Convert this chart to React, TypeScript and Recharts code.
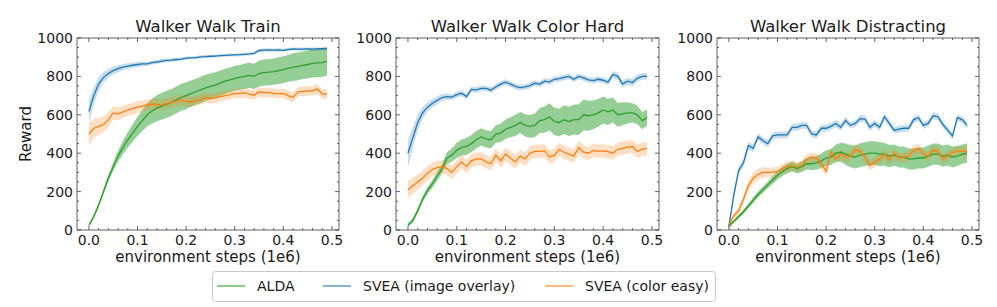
import React from 'react';
import { ComposedChart, Line, Area, XAxis, YAxis } from 'recharts';

const STEPS = [0, 0.01, 0.02, 0.03, 0.04, 0.05, 0.06, 0.07, 0.08, 0.09, 0.1, 0.11, 0.12, 0.13, 0.14, 0.15, 0.16, 0.17, 0.18, 0.19, 0.2, 0.21, 0.22, 0.23, 0.24, 0.25, 0.26, 0.27, 0.28, 0.29, 0.3, 0.31, 0.32, 0.33, 0.34, 0.35, 0.36, 0.37, 0.38, 0.39, 0.4, 0.41, 0.42, 0.43, 0.44, 0.45, 0.46, 0.47, 0.48, 0.49];

const X_TICKS = [0, 0.02, 0.04, 0.06, 0.08, 0.1, 0.12, 0.14, 0.16, 0.18, 0.2, 0.22, 0.24, 0.26, 0.28, 0.3, 0.32, 0.34, 0.36, 0.38, 0.4, 0.42, 0.44, 0.46, 0.48, 0.5];
const Y_TICKS = [0, 50, 100, 150, 200, 250, 300, 350, 400, 450, 500, 550, 600, 650, 700, 750, 800, 850, 900, 950, 1000];

const TITLES = ['Walker Walk Train', 'Walker Walk Color Hard', 'Walker Walk Distracting'];
const SERIES_NAMES = ['ALDA', 'SVEA (image overlay)', 'SVEA (color easy)'];
const X_LABEL = 'environment steps (1e6)';
const Y_LABEL = 'Reward';

// ---- Walker Walk Train ----
const TRAIN_ALDA = [25, 70, 130, 200, 270, 330, 385, 430, 470, 505, 540, 570, 600, 620, 635, 645, 655, 665, 678, 690, 700, 710, 720, 730, 740, 748, 755, 765, 775, 782, 790, 795, 800, 805, 800, 815, 820, 822, 825, 830, 835, 842, 848, 852, 858, 862, 868, 870, 872, 880];
const TRAIN_ALDA_SD = [8, 10, 12, 15, 18, 22, 28, 35, 40, 45, 50, 55, 60, 65, 68, 70, 70, 70, 70, 70, 70, 68, 68, 68, 68, 68, 66, 66, 65, 65, 65, 65, 66, 66, 66, 68, 68, 68, 68, 70, 70, 70, 72, 72, 72, 72, 74, 75, 75, 75];
const TRAIN_IMG = [617, 700, 760, 795, 815, 830, 840, 848, 853, 858, 862, 865, 865, 872, 875, 880, 883, 885, 888, 890, 895, 897, 898, 902, 903, 905, 906, 908, 910, 911, 912, 913, 915, 917, 920, 935, 937, 938, 937, 938, 936, 940, 943, 942, 942, 943, 942, 943, 944, 943];
const TRAIN_IMG_SD = [60, 45, 35, 28, 22, 20, 18, 16, 15, 14, 13, 12, 11, 10, 10, 10, 9, 9, 9, 9, 9, 8, 8, 8, 8, 8, 8, 8, 8, 8, 8, 8, 8, 8, 8, 8, 8, 8, 8, 8, 8, 8, 8, 8, 8, 8, 8, 8, 8, 8];
const TRAIN_COLOR = [500, 530, 540, 548, 575, 610, 605, 615, 625, 632, 640, 645, 652, 655, 655, 650, 660, 665, 672, 676, 670, 668, 673, 678, 690, 685, 688, 695, 700, 705, 712, 710, 715, 708, 702, 720, 715, 716, 712, 710, 712, 700, 690, 720, 722, 724, 725, 735, 708, 708];
const TRAIN_COLOR_SD = [60, 50, 45, 40, 38, 36, 34, 32, 30, 30, 30, 28, 28, 28, 28, 28, 28, 28, 28, 28, 28, 26, 26, 26, 26, 26, 26, 26, 25, 25, 25, 25, 25, 25, 25, 25, 25, 25, 25, 25, 25, 25, 25, 25, 25, 25, 25, 25, 25, 25];

// ---- Walker Walk Color Hard ----
const HARD_ALDA = [25, 50, 100, 160, 205, 240, 280, 320, 375, 390, 415, 430, 435, 450, 470, 485, 475, 470, 500, 505, 525, 535, 545, 560, 545, 540, 545, 570, 575, 590, 565, 560, 575, 565, 575, 575, 600, 595, 600, 610, 625, 615, 625, 600, 605, 610, 610, 600, 570, 585];
const HARD_ALDA_SD = [10, 12, 14, 16, 18, 20, 22, 25, 30, 35, 40, 42, 45, 45, 45, 45, 45, 45, 45, 48, 50, 52, 55, 55, 58, 60, 62, 65, 68, 70, 72, 72, 75, 75, 78, 80, 80, 78, 75, 72, 70, 68, 65, 62, 60, 55, 50, 48, 45, 42];
const HARD_IMG = [400, 480, 560, 610, 640, 660, 675, 690, 695, 692, 705, 712, 695, 732, 730, 738, 738, 728, 745, 760, 770, 760, 748, 742, 745, 752, 765, 760, 775, 772, 785, 788, 795, 800, 785, 800, 792, 782, 778, 785, 780, 770, 810, 800, 760, 775, 768, 790, 800, 800];
const HARD_IMG_SD = [70, 55, 40, 30, 25, 22, 20, 18, 16, 15, 15, 15, 15, 15, 15, 15, 15, 15, 15, 15, 15, 15, 15, 15, 15, 15, 15, 15, 15, 15, 15, 15, 15, 15, 15, 15, 15, 15, 15, 15, 15, 15, 18, 18, 18, 18, 18, 18, 18, 18];
const HARD_COLOR = [210, 230, 250, 270, 295, 315, 325, 330, 320, 300, 330, 355, 330, 360, 370, 370, 355, 345, 390, 360, 395, 375, 355, 385, 370, 400, 410, 410, 412, 380, 390, 420, 405, 395, 385, 430, 405, 400, 415, 410, 412, 408, 400, 420, 425, 432, 435, 410, 420, 425];
const HARD_COLOR_SD = [45, 42, 40, 38, 38, 36, 35, 35, 35, 35, 35, 35, 35, 35, 35, 35, 35, 35, 35, 35, 35, 35, 35, 35, 35, 35, 35, 35, 35, 35, 35, 35, 35, 35, 35, 35, 35, 35, 35, 35, 35, 35, 35, 35, 35, 35, 35, 35, 35, 35];

// ---- Walker Walk Distracting ----
const DIST_ALDA = [20, 45, 70, 95, 125, 155, 185, 210, 235, 260, 285, 305, 320, 330, 320, 330, 345, 345, 350, 360, 375, 380, 400, 405, 395, 385, 380, 390, 395, 400, 400, 395, 395, 385, 390, 380, 380, 370, 370, 375, 375, 385, 395, 395, 385, 390, 380, 385, 395, 400];
const DIST_ALDA_SD = [8, 10, 10, 12, 12, 14, 15, 16, 18, 20, 22, 24, 25, 25, 25, 28, 30, 32, 35, 38, 40, 42, 45, 50, 55, 58, 60, 62, 62, 62, 62, 62, 60, 58, 55, 55, 55, 55, 55, 55, 55, 55, 55, 55, 55, 55, 55, 52, 50, 50];
const DIST_IMG = [20, 180, 310, 350, 440, 425, 485, 465, 450, 490, 495, 495, 495, 535, 535, 545, 545, 500, 495, 530, 530, 540, 555, 535, 570, 545, 555, 580, 578, 535, 555, 535, 590, 555, 520, 525, 530, 530, 575, 585, 545, 555, 595, 590, 550, 520, 490, 585, 575, 545];
const DIST_IMG_SD = [10, 20, 20, 20, 20, 20, 18, 18, 18, 18, 18, 18, 18, 18, 18, 18, 18, 18, 18, 18, 18, 18, 18, 18, 18, 18, 18, 18, 18, 18, 18, 18, 18, 18, 18, 18, 18, 18, 18, 18, 18, 18, 18, 18, 18, 18, 18, 18, 18, 18];
const DIST_COLOR = [25, 75, 100, 160, 230, 270, 290, 300, 300, 300, 305, 320, 330, 335, 330, 335, 370, 380, 375, 345, 305, 405, 370, 395, 380, 385, 420, 410, 380, 335, 355, 370, 395, 365, 400, 375, 380, 385, 415, 425, 395, 385, 415, 410, 370, 385, 405, 410, 410, 410];
const DIST_COLOR_SD = [10, 15, 20, 25, 28, 30, 30, 28, 25, 25, 25, 25, 25, 25, 25, 25, 25, 25, 25, 25, 25, 25, 25, 25, 25, 25, 25, 25, 25, 25, 25, 25, 25, 25, 25, 25, 25, 25, 25, 25, 25, 25, 25, 25, 25, 25, 25, 25, 25, 25];

const GREEN = '#2ca02c';
const BLUE = '#1f77b4';
const ORANGE = '#ff7f0e';
const AXIS = '#3a3a3a';
const TEXT = '#1a1a1a';
const FONT = '"DejaVu Sans", sans-serif';

function buildRows(alda: number[], aldaSd: number[], img: number[], imgSd: number[], col: number[], colSd: number[]) {
  return STEPS.map((x, i) => ({
    x,
    alda: alda[i],
    aldaBand: [alda[i] - aldaSd[i], alda[i] + aldaSd[i]],
    img: img[i],
    imgBand: [img[i] - imgSd[i], img[i] + imgSd[i]],
    col: col[i],
    colBand: [col[i] - colSd[i], col[i] + colSd[i]],
  }));
}

const PANELS = [
  { title: TITLES[0], rows: buildRows(TRAIN_ALDA, TRAIN_ALDA_SD, TRAIN_IMG, TRAIN_IMG_SD, TRAIN_COLOR, TRAIN_COLOR_SD), left: 77, width: 262 },
  { title: TITLES[1], rows: buildRows(HARD_ALDA, HARD_ALDA_SD, HARD_IMG, HARD_IMG_SD, HARD_COLOR, HARD_COLOR_SD), left: 396, width: 263 },
  { title: TITLES[2], rows: buildRows(DIST_ALDA, DIST_ALDA_SD, DIST_IMG, DIST_IMG_SD, DIST_COLOR, DIST_COLOR_SD), left: 717, width: 262 },
];

const PLOT_TOP = 38;
const PLOT_BOTTOM = 230;
const Y_AXIS_W = 70;
const RIGHT_W = 10;
const CHART_H = 300;

const isMajorX = (v: number) => Math.abs(v * 10 - Math.round(v * 10)) < 1e-6;
const isMajorY = (v: number) => Math.abs(v / 200 - Math.round(v / 200)) < 1e-6;

const BottomTick = (props: any) => {
  const { x, y, payload } = props;
  const v = payload.value;
  const major = isMajorX(v);
  return (
    <g>
      <line x1={x} x2={x} y1={y} y2={y - (major ? 4 : 2)} stroke={AXIS} strokeWidth={0.8} />
      {major && (
        <text x={x} y={y + 14.5} textAnchor="middle" fontSize={14} fontFamily={FONT} fill={TEXT}>
          {v.toFixed(1)}
        </text>
      )}
    </g>
  );
};
const TopTick = (props: any) => {
  const { x, y, payload } = props;
  const major = isMajorX(payload.value);
  return <line x1={x} x2={x} y1={y} y2={y + (major ? 4 : 2)} stroke={AXIS} strokeWidth={0.8} />;
};
const LeftTick = (props: any) => {
  const { x, y, payload } = props;
  const v = payload.value;
  const major = isMajorY(v);
  return (
    <g>
      <line x1={x} x2={x + (major ? 4 : 2)} y1={y} y2={y} stroke={AXIS} strokeWidth={0.8} />
      {major && (
        <text x={x - 4} y={y + 5} textAnchor="end" fontSize={14} fontFamily={FONT} fill={TEXT}>
          {v}
        </text>
      )}
    </g>
  );
};
const RightTick = (props: any) => {
  const { x, y, payload } = props;
  const major = isMajorY(payload.value);
  return <line x1={x} x2={x - (major ? 4 : 2)} y1={y} y2={y} stroke={AXIS} strokeWidth={0.8} />;
};

function Panel({ rows, left, width }: { rows: any[]; left: number; width: number }) {
  const chartW = Y_AXIS_W + width + RIGHT_W;
  const xDomain = [-0.0245, 0.5145];
  const axisLine = { stroke: AXIS, strokeWidth: 0.8 };
  return (
    <div style={{ position: 'absolute', left: left - Y_AXIS_W, top: 0, width: chartW, height: CHART_H }}>
      <ComposedChart width={chartW} height={CHART_H} data={rows} margin={{ top: PLOT_TOP - 10, right: 0, left: 0, bottom: 0 }}>
        <XAxis xAxisId="b" dataKey="x" type="number" domain={xDomain} allowDataOverflow ticks={X_TICKS} interval={0}
          height={CHART_H - PLOT_BOTTOM} tickSize={0} tickMargin={0} tickLine={false} axisLine={axisLine} tick={<BottomTick />} />
        <XAxis xAxisId="t" dataKey="x" orientation="top" type="number" domain={xDomain} allowDataOverflow ticks={X_TICKS} interval={0}
          height={10} tickSize={0} tickMargin={0} tickLine={false} axisLine={axisLine} tick={<TopTick />} />
        <YAxis yAxisId="l" type="number" domain={[0, 1000]} allowDataOverflow ticks={Y_TICKS} interval={0}
          width={Y_AXIS_W} tickSize={0} tickMargin={0} tickLine={false} axisLine={axisLine} tick={<LeftTick />} />
        <YAxis yAxisId="r" orientation="right" type="number" domain={[0, 1000]} allowDataOverflow ticks={Y_TICKS} interval={0}
          width={RIGHT_W} tickSize={0} tickMargin={0} tickLine={false} axisLine={axisLine} tick={<RightTick />} />
        <Area xAxisId="b" yAxisId="l" dataKey="aldaBand" stroke="none" fill={GREEN} fillOpacity={0.5} isAnimationActive={false} />
        <Area xAxisId="b" yAxisId="l" dataKey="imgBand" stroke="none" fill={BLUE} fillOpacity={0.25} isAnimationActive={false} />
        <Area xAxisId="b" yAxisId="l" dataKey="colBand" stroke="none" fill={ORANGE} fillOpacity={0.25} isAnimationActive={false} />
        <Line xAxisId="b" yAxisId="l" dataKey="alda" stroke={GREEN} strokeWidth={1.3} dot={false} isAnimationActive={false} />
        <Line xAxisId="b" yAxisId="l" dataKey="img" stroke={BLUE} strokeWidth={1.3} dot={false} isAnimationActive={false} />
        <Line xAxisId="b" yAxisId="l" dataKey="col" stroke={ORANGE} strokeWidth={1.3} dot={false} isAnimationActive={false} />
      </ComposedChart>
    </div>
  );
}

const LEGEND_ITEMS = [
  { name: SERIES_NAMES[0], color: GREEN, lineX: 217, textX: 257 },
  { name: SERIES_NAMES[1], color: BLUE, lineX: 323, textX: 363 },
  { name: SERIES_NAMES[2], color: ORANGE, lineX: 545, textX: 585 },
];

export default function App() {
  return (
    <div style={{ position: 'absolute', left: 0, top: 0, width: 997, height: 307, background: '#fff', overflow: 'hidden' }}>
      {PANELS.map((p, i) => (
        <Panel key={i} rows={p.rows} left={p.left} width={p.width} />
      ))}
      <svg width={997} height={307} style={{ position: 'absolute', left: 0, top: 0, pointerEvents: 'none' }}>
        {PANELS.map((p, i) => (
          <g key={i}>
            <text x={p.left + p.width / 2} y={32} textAnchor="middle" fontSize={16.5} fontFamily={FONT} fill={TEXT}>{p.title}</text>
            <text x={p.left + p.width / 2} y={262} textAnchor="middle" fontSize={15} fontFamily={FONT} fill={TEXT}>{X_LABEL}</text>
          </g>
        ))}
        <text x={31} y={134} transform="rotate(-90 31 134)" textAnchor="middle" fontSize={15} fontFamily={FONT} fill={TEXT}>{Y_LABEL}</text>
        <rect x={212.5} y={271.5} width={503} height={30} rx={3} fill="#fff" stroke="#c8c8c8" strokeWidth={1} />
        {LEGEND_ITEMS.map((it, i) => (
          <g key={i}>
            <line x1={it.lineX} x2={it.lineX + 28} y1={286} y2={286} stroke={it.color} strokeOpacity={0.55} strokeWidth={2} />
            <text x={it.textX} y={291} fontSize={14} fontFamily={FONT} fill={TEXT}>{it.name}</text>
          </g>
        ))}
      </svg>
    </div>
  );
}
